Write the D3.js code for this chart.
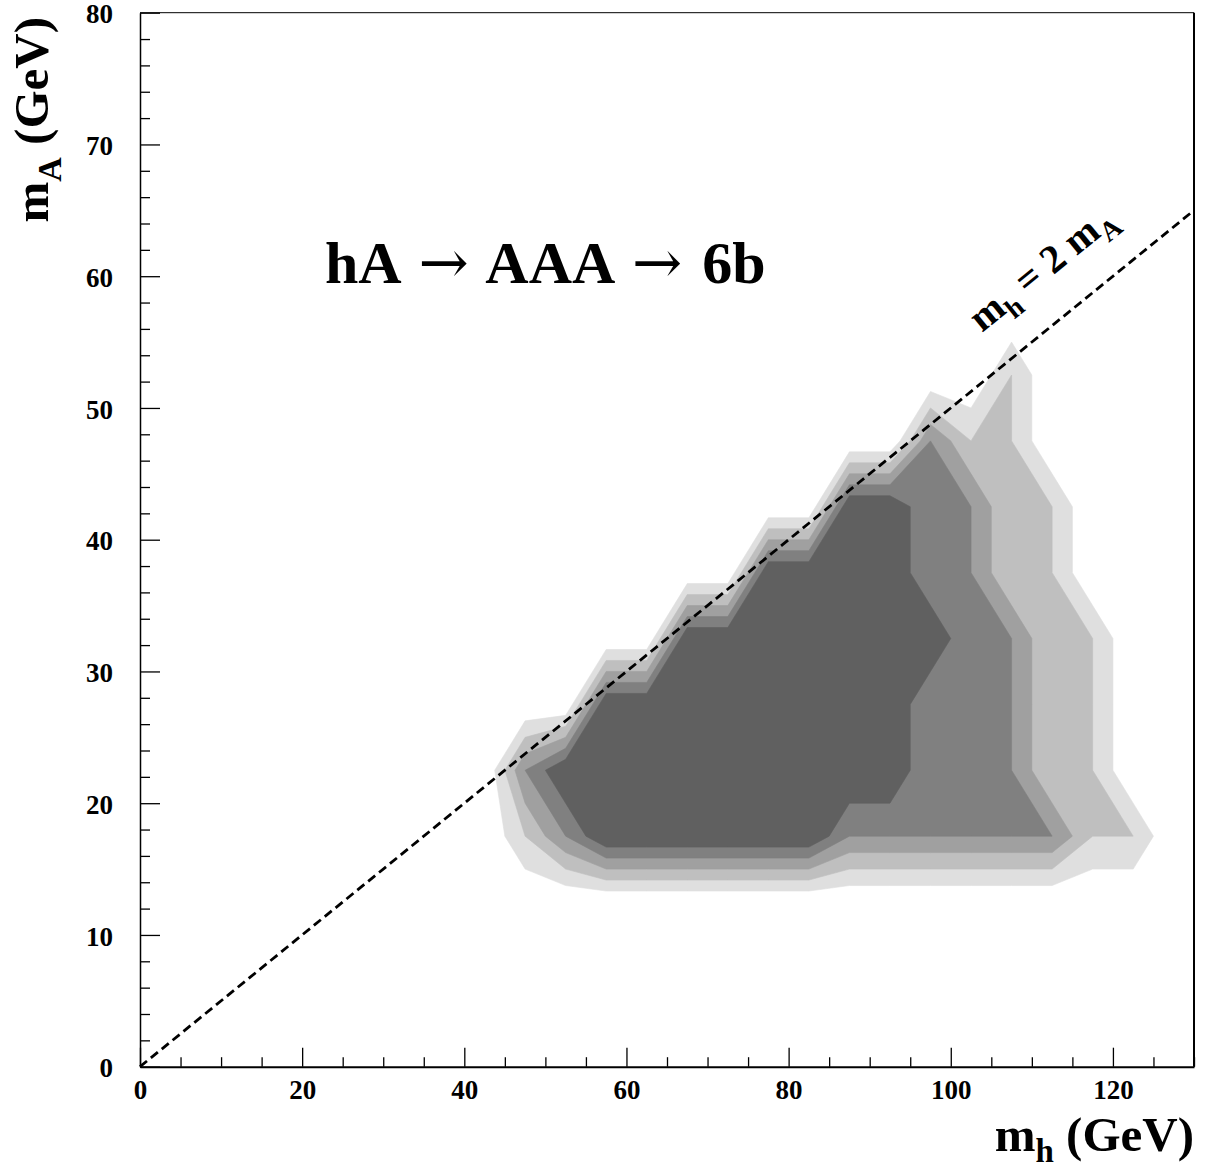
<!DOCTYPE html>
<html><head><meta charset="utf-8">
<script src="https://cdn.jsdelivr.net/npm/d3@7"></script>
<style>
body{margin:0;background:#fff}
svg{display:block}
text{font-family:"Liberation Serif","Times New Roman",serif;font-weight:bold;fill:#000}
</style>
</head><body>
<svg id="chart" width="1205" height="1173"></svg>
<script>
// ---- data ----
// bin centres of the (mh, mA) grid, GeV
const mhBins = [2.5,7.5,12.5,17.5,22.5,27.5,32.5,37.5,42.5,47.5,52.5,57.5,62.5,67.5,72.5,77.5,82.5,87.5,92.5,97.5,102.5,107.5,112.5,117.5,122.5,127.5];
const mABins = [2.5,7.5,12.5,17.5,22.5,27.5,32.5,37.5,42.5,47.5,52.5,57.5,62.5,67.5,72.5,77.5];
// grid values, one row per mA bin
const row_mA_2_5  = [0,0,0,0,0,0,0,0,0,0,0,0,0,0,0,0,0,0,0,0,0,0,0,0,0,0];
const row_mA_7_5  = [0,0,0,0,0,0,0,0,0,0,0,0,0,0,0,0,0,0,0,0,0,0,0,0,0,0];
const row_mA_12_5 = [0,0,0,0,0,0,0,0,0,0,0,0,0,0,0,0,0,0,0,0,0,0,0,0,0,0];
const row_mA_17_5 = [0,0,0,0,0,0,0,0,0,2,4,6,6,6,6,6,6,4,4,4,4,4,4,2,2,0];
const row_mA_22_5 = [0,0,0,0,0,0,0,0,0,4,6,6,6,6,6,6,6,6,6,4,4,4,2,2,0,0];
const row_mA_27_5 = [0,0,0,0,0,0,0,0,0,0,0,6,6,6,6,6,6,6,6,4,4,4,2,2,0,0];
const row_mA_32_5 = [0,0,0,0,0,0,0,0,0,0,0,0,0,6,6,6,6,6,6,6,4,4,2,2,0,0];
const row_mA_37_5 = [0,0,0,0,0,0,0,0,0,0,0,0,0,0,0,6,6,6,6,4,4,2,2,0,0,0];
const row_mA_42_5 = [0,0,0,0,0,0,0,0,0,0,0,0,0,0,0,0,0,6,6,4,4,2,2,0,0,0];
const row_mA_47_5 = [0,0,0,0,0,0,0,0,0,0,0,0,0,0,0,0,0,0,0,4,2,2,0,0,0,0];
const row_mA_52_5 = [0,0,0,0,0,0,0,0,0,0,0,0,0,0,0,0,0,0,0,0,0,2,0,0,0,0];
const row_mA_57_5 = [0,0,0,0,0,0,0,0,0,0,0,0,0,0,0,0,0,0,0,0,0,0,0,0,0,0];
const row_mA_62_5 = [0,0,0,0,0,0,0,0,0,0,0,0,0,0,0,0,0,0,0,0,0,0,0,0,0,0];
const row_mA_67_5 = [0,0,0,0,0,0,0,0,0,0,0,0,0,0,0,0,0,0,0,0,0,0,0,0,0,0];
const row_mA_72_5 = [0,0,0,0,0,0,0,0,0,0,0,0,0,0,0,0,0,0,0,0,0,0,0,0,0,0];
const row_mA_77_5 = [0,0,0,0,0,0,0,0,0,0,0,0,0,0,0,0,0,0,0,0,0,0,0,0,0,0];
const gridRows = [row_mA_2_5,row_mA_7_5,row_mA_12_5,row_mA_17_5,row_mA_22_5,row_mA_27_5,row_mA_32_5,row_mA_37_5,row_mA_42_5,row_mA_47_5,row_mA_52_5,row_mA_57_5,row_mA_62_5,row_mA_67_5,row_mA_72_5,row_mA_77_5];
const contourLevels = [1,2,3,4,5];
const levelColors = ["#dfdfdf","#bfbfbf","#a0a0a0","#808080","#606060"];

const xMajorTicks = [0,20,40,60,80,100,120];
const xTickLabels = ["0","20","40","60","80","100","120"];
const yMajorTicks = [0,10,20,30,40,50,60,70,80];
const yTickLabels = ["0","10","20","30","40","50","60","70","80"];
const xMinorTicks = [5,10,15,25,30,35,45,50,55,65,70,75,85,90,95,105,110,115,125,130];
const yMinorTicks = [2,4,6,8,12,14,16,18,22,24,26,28,32,34,36,38,42,44,46,48,52,54,56,58,62,64,66,68,72,74,76,78];
const diagonal = [[0,0],[130,65]]; // mh = 2 mA

// ---- drawing ----
const svg = d3.select("#chart");
const x = d3.scaleLinear().domain([0,130]).range([140,1194]);
const y = d3.scaleLinear().domain([0,80]).range([1066.7,12.7]);

const nx = mhBins.length, ny = mABins.length;
const values = [];
gridRows.forEach(r => r.forEach(v => values.push(v)));
const binW = mhBins[1]-mhBins[0], binH = mABins[1]-mABins[0];
const contours = d3.contours().size([nx, ny]).thresholds(contourLevels)(values);
const proj = d3.geoTransform({point(px,py){
  this.stream.point(x(mhBins[0]-binW/2 + px*binW), y(mABins[0]-binH/2 + py*binH));
}});
const path = d3.geoPath(proj);
svg.append("g").selectAll("path").data(contours).join("path")
  .attr("d", path)
  .attr("fill", (d,i)=>levelColors[i])
  .attr("stroke", (d,i)=>levelColors[i])
  .attr("stroke-width", 0.6);

// dashed line mh = 2 mA
svg.append("path")
  .attr("d", d3.line().x(d=>x(d[0])).y(d=>y(d[1]))(diagonal))
  .attr("fill","none").attr("stroke","#000").attr("stroke-width",2.8)
  .attr("stroke-dasharray","9,5");

// frame
svg.append("line").attr("x1",x(0)).attr("x2",x(130)).attr("y1",y(80)).attr("y2",y(80)).attr("stroke","#000").attr("stroke-width",1);
svg.append("line").attr("x1",x(130)).attr("x2",x(130)).attr("y1",y(80)).attr("y2",y(0)).attr("stroke","#000").attr("stroke-width",2);

const tickFont = "27px";
// x axis
const gx = svg.append("g").attr("transform",`translate(0,${y(0)})`);
gx.call(d3.axisBottom(x).tickValues(xMajorTicks).tickFormat((d,i)=>xTickLabels[i]).tickSize(-19).tickSizeOuter(0).tickPadding(13));
gx.call(g=>g.select(".domain").attr("stroke","#000").attr("stroke-width",2));
gx.selectAll(".tick line").attr("stroke","#000").attr("stroke-width",1.3);
gx.selectAll(".tick text").style("font-size",tickFont).style("font-family",'"Liberation Serif",serif').style("font-weight","bold");
const gxm = svg.append("g").attr("transform",`translate(0,${y(0)})`);
gxm.call(d3.axisBottom(x).tickValues(xMinorTicks).tickFormat("").tickSize(-9.5).tickSizeOuter(0));
gxm.select(".domain").remove();
gxm.selectAll(".tick line").attr("stroke","#000").attr("stroke-width",1.3);

// y axis
const gy = svg.append("g").attr("transform",`translate(${x(0)},0)`);
gy.call(d3.axisLeft(y).tickValues(yMajorTicks).tickFormat((d,i)=>yTickLabels[i]).tickSize(-20).tickSizeOuter(0).tickPadding(27));
gy.call(g=>g.select(".domain").attr("stroke","#000").attr("stroke-width",1.5));
gy.selectAll(".tick line").attr("stroke","#000").attr("stroke-width",1.3);
gy.selectAll(".tick text").style("font-size",tickFont).style("font-family",'"Liberation Serif",serif').style("font-weight","bold").attr("dy","0.38em");
const gym = svg.append("g").attr("transform",`translate(${x(0)},0)`);
gym.call(d3.axisLeft(y).tickValues(yMinorTicks).tickFormat("").tickSize(-10).tickSizeOuter(0));
gym.select(".domain").remove();
gym.selectAll(".tick line").attr("stroke","#000").attr("stroke-width",1.3);

// rich text helper: parts = [[text, isSub]]
function rich(g, parts, size, subSize, subShift){
  const t = g.append("text").style("font-size", size+"px");
  let shifted = false;
  parts.forEach(([s, sub])=>{
    const ts = t.append("tspan").text(s);
    if (sub && !shifted){ ts.attr("dy", subShift).style("font-size", subSize+"px"); shifted = true; }
    else if (sub){ ts.style("font-size", subSize+"px"); }
    else if (!sub && shifted){ ts.attr("dy", -subShift); shifted = false; }
  });
  return t;
}

// x title
const xt = svg.append("g").attr("transform","translate(1194,1151)");
rich(xt, [["m",false],["h",true],[" (GeV)",false]], 49, 33, 11).attr("text-anchor","end");

// y title
const yt = svg.append("g").attr("transform","translate(48,17) rotate(-90)");
rich(yt, [["m",false],["A",true],[" (GeV)",false]], 49, 34, 13).attr("text-anchor","end");

// process label
const pl = svg.append("text").attr("x",325).attr("y",283).style("font-size","60px").style("word-spacing","5px");
pl.append("tspan").text("hA ");
pl.append("tspan").text("\u2192").style("font-family","'DejaVu Serif',serif").style("font-weight","normal");
pl.append("tspan").text(" AAA ");
pl.append("tspan").text("\u2192").style("font-family","'DejaVu Serif',serif").style("font-weight","normal");
pl.append("tspan").text(" 6b");

// diagonal label
const ang = Math.atan2(y(65)-y(0), x(130)-x(0))*180/Math.PI;
const dl = svg.append("g").attr("transform",`translate(982,333) rotate(${ang})`);
rich(dl, [["m",false],["h",true],[" = 2 m",false],["A",true]], 40, 28, 10);
</script>
</body></html>
